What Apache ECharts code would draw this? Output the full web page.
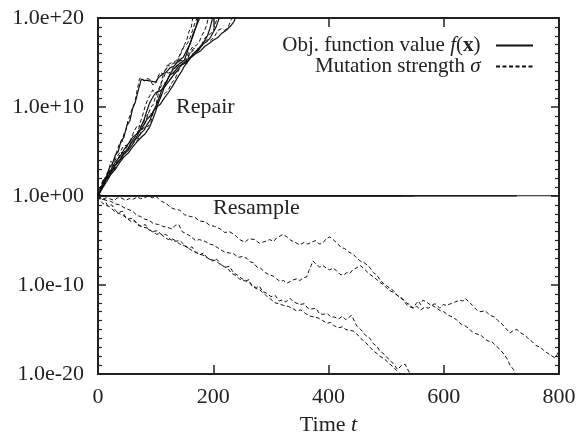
<!DOCTYPE html>
<html>
<head>
<meta charset="utf-8">
<script src="https://cdn.jsdelivr.net/npm/echarts@6/dist/echarts.min.js"></script>
<style>
  html, body { margin: 0; padding: 0; background: #fff; }
  #chart { width: 579px; height: 441px; }
</style>
</head>
<body>
<div id="chart"></div>
<script>
// values are [time t, log10 of the value]
// Repair runs: objective function value f(x)
const repairF1 = [[0,0],[6,1.0],[10,1.8],[15,2.2],[20,3.2],[25,3.6],[30,4.6],[35,5.0],[40,6.2],[45,6.6],[50,7.9],[55,8.4],[60,9.8],[65,10.6],[70,11.9],[75,13.1],[80,13.0],[85,13.0],[92,12.9],[100,12.8],[105,13.3],[110,13.6],[118,13.9],[125,14.4],[132,14.6],[140,15.2],[148,15.6],[155,16.5],[160,17.1],[165,18.2],[170,19.0],[175,20.3]]
const repairF2 = [[0,0],[8,1.2],[15,2.0],[22,2.6],[30,3.5],[38,4.0],[45,4.9],[52,5.3],[60,6.2],[68,6.5],[75,7.1],[80,7.4],[85,8.0],[90,8.5],[95,9.4],[100,10.0],[105,10.9],[110,11.8],[115,12.5],[120,13.0],[125,13.6],[132,13.9],[140,14.6],[148,14.8],[155,15.1],[162,15.6],[170,16.0],[178,16.3],[185,16.8],[192,17.1],[200,17.5],[208,17.8],[215,18.3],[222,18.6],[230,19.1],[236,19.6],[240,20.3]]
const repairF3 = [[0,0],[8,0.9],[15,1.6],[22,2.4],[30,3.0],[38,3.8],[45,4.4],[52,4.8],[60,5.5],[68,6.1],[75,6.6],[82,7.0],[90,7.8],[95,8.6],[100,9.5],[105,10.5],[110,11.3],[115,12.2],[120,13.0],[125,13.7],[130,14.2],[135,14.5],[140,14.8],[145,15.0],[150,15.3],[155,16.2],[160,17.2],[165,18.0],[170,19.0],[174,19.6],[178,20.3]]
const repairF4 = [[0,0],[8,1.3],[15,2.2],[22,2.9],[30,3.8],[38,4.4],[45,5.2],[52,5.8],[60,6.6],[68,7.0],[75,7.5],[80,8.1],[85,8.6],[92,9.1],[100,9.9],[108,10.3],[115,11.0],[122,11.6],[130,12.4],[138,13.3],[145,14.0],[150,14.6],[155,15.0],[160,15.5],[165,16.0],[172,16.4],[180,17.0],[188,17.3],[195,17.8],[200,18.4],[205,19.0],[212,20.3]]
const repairF5 = [[0,0],[8,1.0],[15,1.9],[22,2.7],[30,3.4],[38,4.1],[45,4.7],[52,5.1],[60,5.8],[65,6.4],[70,7.0],[75,7.8],[80,8.6],[85,9.6],[90,10.5],[95,11.1],[100,11.6],[108,11.8],[115,12.2],[122,12.8],[130,13.5],[138,14.1],[145,14.8],[152,15.1],[160,15.6],[168,16.0],[175,16.4],[182,17.1],[190,18.0],[195,19.0],[200,20.3]]

// Repair runs: mutation strength sigma
const repairS1 = [[0,0],[4,0.9],[8,1.5],[12,1.4],[15,2.5],[19,2.9],[22,3.9],[26,3.7],[30,4.4],[34,5.3],[38,6.0],[42,6.1],[45,7.0],[49,7.5],[52,8.5],[56,9.1],[60,10.0],[64,10.5],[67,11.6],[70,12.5],[72,13.2],[76,13.3],[80,12.9],[85,13.2],[90,13.1],[95,12.5],[100,12.6],[104,13.4],[108,13.9],[113,13.7],[118,14.2],[123,14.8],[128,15.0],[134,15.1],[140,15.6],[145,16.3],[150,17.0],[154,17.5],[158,18.5],[162,19.0],[165,20.3]]
const repairS2 = [[0,0],[5,0.9],[10,1.6],[15,1.9],[20,2.9],[25,2.8],[30,3.2],[35,4.2],[40,4.8],[45,4.9],[50,5.5],[56,6.1],[62,6.4],[67,6.9],[72,7.6],[77,7.5],[82,8.2],[87,9.2],[92,10.0],[96,10.3],[100,11.2],[104,11.8],[108,12.4],[113,13.2],[118,13.9],[123,13.8],[128,14.1],[134,14.9],[140,15.3],[146,15.2],[152,14.9],[158,15.8],[165,16.4],[171,16.3],[178,16.6],[184,17.3],[190,17.6],[196,17.5],[202,17.9],[208,18.6],[214,18.8],[220,18.6],[226,19.0],[231,19.8],[236,20.3]]
const repairS3 = [[0,0],[6,1.2],[12,1.9],[18,2.0],[24,2.6],[30,3.6],[36,4.1],[42,4.2],[48,4.9],[54,5.6],[60,6.1],[65,6.0],[70,6.4],[76,7.4],[82,7.9],[87,7.8],[92,8.4],[96,9.4],[100,10.0],[103,11.0],[106,11.9],[109,12.5],[112,13.4],[116,14.1],[120,14.7],[125,14.6],[130,14.9],[135,15.0],[140,15.4],[145,16.2],[150,16.9],[155,17.1],[160,17.8],[164,18.6],[168,19.4],[174,20.3]]
const repairS4 = [[0,0],[5,1.2],[10,2.0],[16,2.2],[22,3.0],[27,3.7],[32,4.3],[38,4.9],[44,5.6],[50,5.7],[56,6.2],[62,7.2],[68,7.9],[73,7.8],[78,8.1],[83,8.9],[88,9.3],[93,9.2],[98,9.6],[104,10.7],[110,11.4],[116,11.5],[122,11.9],[128,12.7],[134,13.2],[139,14.0],[144,14.6],[149,14.9],[154,15.4],[160,16.1],[166,16.6],[172,16.5],[178,16.7],[184,17.6],[190,18.1],[195,18.2],[200,18.6],[204,19.4],[208,20.3]]
const repairS5 = [[0,0],[5,0.8],[10,1.2],[15,2.1],[20,2.8],[25,2.7],[30,3.1],[35,4.2],[40,4.9],[46,4.8],[52,5.3],[57,6.0],[62,6.5],[66,6.7],[70,7.4],[74,8.4],[78,9.2],[82,10.1],[86,10.8],[90,11.3],[95,11.9],[100,11.6],[105,11.8],[110,12.4],[115,12.7],[121,12.9],[128,13.3],[134,14.3],[140,15.1],[146,15.0],[152,15.4],[158,16.2],[165,16.8],[170,16.9],[175,17.2],[180,18.0],[185,18.6],[189,19.3],[192,20.3]]

// Resample runs: objective function value f(x)
const resampleF1 = [[0,0.15],[6,0.05],[30,0.03],[800,0.03]]
const resampleF2 = [[0,0.1],[8,0.02],[727,0.02]]
const resampleF3 = [[0,0.2],[5,0.0],[548,0.0]]
const resampleF4 = [[0,0.1],[7,0.04],[528,0.04]]

// Resample runs: mutation strength sigma
const resampleS1 = [[0,0],[8,-0.4],[14,-0.2],[20,-0.3],[28,-0.5],[34,-0.2],[40,-0.2],[48,-0.5],[54,-0.3],[60,-0.4],[68,-0.1],[74,-0.3],[80,-0.2],[88,0.0],[94,-0.2],[100,0],[105,-0.3],[110,-0.6],[118,-0.8],[126,-1.3],[134,-1.5],[142,-1.6],[150,-2.1],[160,-2.3],[168,-2.4],[176,-2.8],[186,-2.9],[194,-3.3],[202,-3.4],[212,-3.7],[220,-4.1],[228,-4.0],[238,-4.4],[246,-4.9],[255,-5.2],[262,-4.8],[272,-4.9],[280,-5.3],[290,-5.1],[298,-4.9],[305,-5.1],[310,-4.7],[316,-4.5],[321,-4.3],[328,-4.6],[335,-5.0],[342,-5.2],[350,-5.5],[358,-5.2],[364,-5.4],[370,-5.2],[378,-5.0],[384,-5.4],[390,-5.3],[396,-4.8],[402,-4.6],[408,-4.9],[415,-5.3],[422,-5.8],[428,-5.9],[435,-6.3],[442,-6.5],[448,-6.9],[455,-7.3],[462,-7.5],[470,-7.9],[478,-8.6],[484,-8.9],[490,-9.5],[497,-9.9],[505,-10.3],[512,-10.6],[520,-11.2],[528,-11.5],[535,-12.0],[541,-12.2],[547,-12.6],[552,-12.1],[556,-11.8],[560,-12.2],[564,-11.7],[570,-11.9],[578,-12.3],[585,-12.1],[593,-12.6],[599,-12.2],[605,-12.3],[612,-12.1],[620,-11.9],[628,-11.7],[633,-11.8],[637,-11.5],[644,-11.9],[650,-12.3],[657,-12.8],[663,-13.0],[672,-12.9],[680,-13.4],[688,-13.6],[694,-14.0],[700,-14.3],[708,-14.9],[715,-15.4],[721,-15.1],[727,-15.0],[734,-15.4],[740,-15.6],[748,-16.1],[754,-16.4],[760,-16.8],[768,-17.0],[774,-17.4],[779,-17.6],[786,-17.9],[793,-18.2],[797,-17.8],[800,-17.3]]
const resampleS2 = [[0,0],[7,-0.3],[15,-0.5],[22,-0.6],[30,-0.9],[38,-1.0],[45,-1.3],[52,-1.5],[60,-1.7],[68,-2.2],[74,-2.3],[81,-2.6],[88,-2.7],[96,-3.1],[105,-3.2],[112,-3.4],[120,-3.5],[128,-3.7],[134,-3.3],[140,-3.2],[146,-4.0],[152,-4.2],[160,-4.5],[169,-5.0],[176,-4.9],[186,-5.1],[194,-5.4],[200,-5.5],[205,-5.7],[212,-6.0],[220,-6.3],[228,-6.4],[236,-6.5],[243,-6.9],[250,-6.8],[258,-7.0],[264,-7.4],[270,-7.5],[276,-8.0],[282,-8.1],[290,-8.6],[296,-8.8],[304,-9.0],[310,-9.3],[316,-9.6],[322,-9.5],[328,-9.8],[334,-9.6],[340,-9.4],[345,-9.3],[350,-9.5],[356,-9.2],[362,-9.1],[366,-8.4],[370,-7.8],[373,-7.3],[379,-7.7],[385,-8.0],[390,-7.8],[396,-8.1],[402,-8.3],[408,-8.1],[414,-8.4],[420,-8.8],[426,-8.9],[432,-8.6],[437,-8.7],[442,-8.3],[448,-8.1],[455,-7.8],[462,-8.2],[470,-8.7],[478,-9.1],[484,-9.4],[489,-9.7],[496,-10.0],[505,-10.6],[512,-10.8],[520,-11.2],[528,-11.6],[534,-12.1],[540,-12.4],[547,-12.6],[553,-12.4],[560,-12.8],[567,-12.5],[574,-12.6],[580,-12.3],[588,-12.6],[594,-12.9],[600,-13.0],[608,-13.4],[615,-13.6],[622,-13.9],[630,-14.4],[637,-14.6],[644,-14.9],[650,-15.3],[657,-15.5],[664,-15.6],[670,-16.0],[677,-16.3],[684,-16.4],[690,-16.8],[697,-17.2],[705,-17.8],[710,-18.3],[715,-19.0],[721,-19.5],[727,-20.3]]
const resampleS3 = [[0,0],[6,-0.5],[10,-0.3],[17,-1.1],[24,-1.0],[30,-1.6],[35,-1.9],[42,-1.7],[48,-2.4],[52,-2.6],[60,-2.5],[67,-3.1],[75,-3.4],[82,-3.2],[88,-3.8],[95,-4.0],[103,-3.9],[111,-4.4],[118,-4.3],[126,-4.9],[134,-5.1],[142,-5.0],[150,-5.5],[158,-5.9],[163,-5.7],[169,-6.3],[177,-6.6],[183,-6.4],[190,-7.0],[198,-7.2],[206,-7.1],[215,-7.8],[222,-8.0],[228,-7.9],[235,-8.6],[242,-8.9],[250,-9.3],[258,-9.5],[262,-9.4],[267,-10.1],[275,-10.3],[280,-10.1],[285,-10.7],[292,-10.9],[300,-11.3],[308,-11.2],[314,-11.8],[319,-11.7],[326,-11.9],[333,-11.5],[340,-11.9],[350,-12.2],[358,-12.1],[364,-12.6],[370,-12.7],[378,-12.6],[384,-13.2],[390,-13.3],[398,-13.2],[404,-13.6],[410,-13.6],[418,-13.8],[424,-13.5],[430,-13.9],[436,-13.6],[440,-13.4],[449,-14.6],[456,-15.0],[465,-15.7],[472,-16.0],[478,-16.6],[484,-16.9],[489,-17.4],[497,-17.8],[505,-18.4],[512,-18.8],[520,-19.5],[527,-19.0],[533,-18.9],[540,-19.8],[548,-20.5]]
const resampleS4 = [[0,0],[6,-0.7],[12,-1.0],[20,-1.2],[30,-1.8],[38,-2.0],[44,-2.2],[50,-2.5],[58,-2.9],[64,-2.8],[70,-3.3],[78,-3.5],[86,-3.6],[94,-4.0],[102,-4.3],[108,-4.2],[115,-4.6],[122,-4.9],[128,-4.8],[134,-5.0],[142,-5.4],[150,-5.6],[160,-6.0],[168,-6.3],[176,-6.5],[184,-6.7],[191,-7.0],[198,-7.3],[204,-7.2],[210,-7.6],[218,-7.9],[226,-8.2],[232,-8.7],[238,-8.9],[245,-9.3],[252,-9.5],[260,-9.6],[267,-10.0],[274,-10.4],[280,-10.5],[285,-10.8],[292,-11.2],[300,-11.6],[307,-12.0],[314,-12.1],[322,-12.3],[330,-12.4],[337,-12.6],[344,-12.9],[352,-12.8],[360,-13.2],[368,-13.5],[375,-13.6],[382,-13.7],[390,-14.0],[398,-14.3],[404,-14.2],[410,-14.6],[418,-14.8],[424,-14.7],[430,-15.0],[438,-15.1],[444,-15.2],[449,-15.5],[456,-16.0],[465,-16.5],[472,-17.0],[478,-17.4],[484,-17.7],[489,-18.0],[497,-18.3],[505,-18.8],[512,-19.2],[518,-19.6],[523,-19.9],[528,-20.5]]

const xTicks = [0, 200, 400, 600, 800]
const yTicks = [-20, -10, 0, 10, 20]

const fRuns = [repairF1, repairF2, repairF3, repairF4, repairF5, resampleF1, resampleF2, resampleF3, resampleF4]
const sRuns = [repairS1, repairS2, repairS3, repairS4, repairS5, resampleS1, resampleS2, resampleS3, resampleS4]

const FONT = '"Liberation Serif", "Times New Roman", serif'
const INK = '#222'

const chart = echarts.init(document.getElementById('chart'))

// exponent -> "1.0e+20" style label
const expLabel = v => '1.0e' + (v < 0 ? '-' : '+') + String(Math.abs(v)).padStart(2, '0')

const baseX = {
  type: 'value',
  min: xTicks[0],
  max: xTicks[xTicks.length - 1],
  interval: xTicks[1] - xTicks[0],
  splitLine: { show: false },
  axisLine: { show: true, onZero: false, lineStyle: { color: INK, width: 2 } },
  axisTick: { show: true, inside: true, length: 9, lineStyle: { color: INK, width: 1.5 } }
}

const baseY = {
  type: 'value',
  min: yTicks[0],
  max: yTicks[yTicks.length - 1],
  interval: yTicks[1] - yTicks[0],
  splitLine: { show: false },
  axisLine: { show: true, onZero: false, lineStyle: { color: INK, width: 2 } },
  axisTick: { show: true, inside: true, length: 8, lineStyle: { color: INK, width: 1.5 } },
  minorTick: { show: true, splitNumber: 10, length: 4, lineStyle: { color: INK, width: 1.2 } },
  minorSplitLine: { show: false }
}

const series = []
fRuns.forEach(run => {
  series.push({
    name: 'obj',
    type: 'line',
    data: run,
    symbol: 'none',
    clip: true,
    itemStyle: { color: '#111' },
    lineStyle: { color: '#111', width: 1.2, type: 'solid' }
  })
})
sRuns.forEach(run => {
  series.push({
    name: 'sigma',
    type: 'line',
    data: run,
    symbol: 'none',
    clip: true,
    itemStyle: { color: '#111' },
    lineStyle: { color: '#111', width: 1, type: [4, 2.5] }
  })
})

const option = {
  animation: false,
  backgroundColor: '#fff',
  grid: { left: 98, right: 20, top: 18, bottom: 65, containLabel: false },
  legend: {
    data: ['obj', 'sigma'],
    orient: 'vertical',
    right: 40,
    top: 30,
    align: 'right',
    itemWidth: 37,
    itemHeight: 10,
    itemGap: 0,
    selectedMode: false,
    itemStyle: { opacity: 0 },
    formatter: name => name === 'obj'
      ? 'Obj. function value {i|f}(' + '{b|x})  '
      : 'Mutation strength {i|σ}  ',
    textStyle: {
      fontFamily: FONT, fontSize: 21, color: INK, lineHeight: 18,
      rich: {
        i: { fontFamily: FONT, fontSize: 21, fontStyle: 'italic', color: INK, lineHeight: 18 },
        b: { fontFamily: FONT, fontSize: 21, fontWeight: 'bold', color: INK, lineHeight: 18 }
      }
    }
  },
  xAxis: [
    Object.assign({}, baseX, {
      position: 'bottom',
      name: 'Time {i|t}',
      nameLocation: 'middle',
      nameGap: 40,
      nameTextStyle: {
        fontFamily: FONT, fontSize: 22, color: INK,
        rich: { i: { fontFamily: FONT, fontSize: 22, fontStyle: 'italic', color: INK } }
      },
      axisLabel: { fontFamily: FONT, fontSize: 22, color: INK, margin: 12 }
    }),
    Object.assign({}, baseX, {
      position: 'top',
      axisLabel: { show: false }
    })
  ],
  yAxis: [
    Object.assign({}, baseY, {
      position: 'left',
      axisLabel: { fontFamily: FONT, fontSize: 22, color: INK, margin: 14, formatter: expLabel }
    }),
    Object.assign({}, baseY, {
      position: 'right',
      axisLabel: { show: false }
    })
  ],
  graphic: [
    { type: 'text', left: 176, top: 96, style: { text: 'Repair', fontFamily: FONT, fontSize: 22, fill: INK } },
    { type: 'text', left: 213, top: 197, style: { text: 'Resample', fontFamily: FONT, fontSize: 22, fill: INK } }
  ],
  series: series
}

chart.setOption(option)
</script>
</body>
</html>
